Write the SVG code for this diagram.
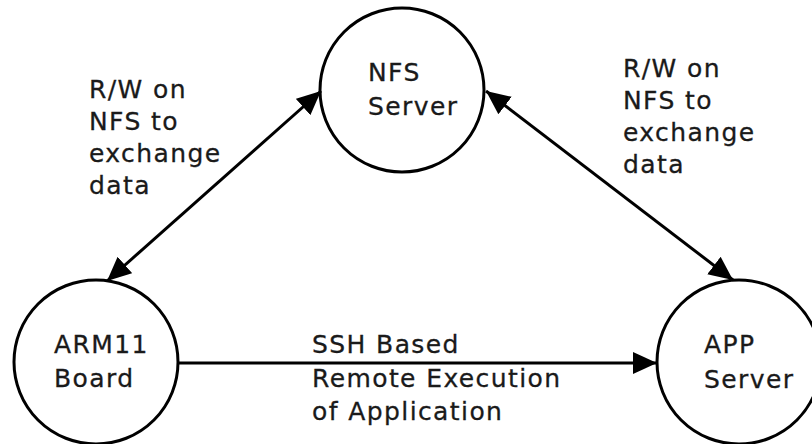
<svg xmlns="http://www.w3.org/2000/svg" width="812" height="444" viewBox="0 0 812 444">
<style>
.node{fill:#fff;stroke:#000;stroke-width:3}
.lbl{font-family:"DejaVu Sans",Verdana,sans-serif;font-size:25px;letter-spacing:1.4px;fill:#1a1a1a;stroke:#1a1a1a;stroke-width:0.3}
.edge{stroke:#000;stroke-width:3;fill:none}
</style>
<defs>
<marker id="arr" markerUnits="userSpaceOnUse" markerWidth="26" markerHeight="24" refX="24" refY="12" orient="auto-start-reverse" viewBox="0 0 26 24">
<path d="M0,1 L24,12 L0,23 Z" fill="#000"/>
</marker>
</defs>
<rect width="812" height="444" fill="#fff"/>
<g id="nfs">
<circle class="node" cx="402" cy="90" r="82"/>
<text class="lbl" x="368" y="81">NFS</text>
<text class="lbl" x="368" y="115">Server</text>
</g>
<g id="arm">
<circle class="node" cx="96" cy="362" r="82"/>
<text class="lbl" x="54" y="353">ARM11</text>
<text class="lbl" x="54" y="387">Board</text>
</g>
<g id="app">
<circle class="node" cx="739" cy="362" r="82"/>
<text class="lbl" x="704" y="353">APP</text>
<text class="lbl" x="704" y="388">Server</text>
</g>
<g id="connectors">
<path class="edge" d="M107,281 L321,91" marker-start="url(#arr)" marker-end="url(#arr)"/>
<path class="edge" d="M486,91 L733,280" marker-start="url(#arr)" marker-end="url(#arr)"/>
<path class="edge" d="M178,363 L657,363" marker-end="url(#arr)"/>
</g>
<g id="labels">
<text class="lbl" x="89" y="98">R/W on</text>
<text class="lbl" x="89" y="130">NFS to</text>
<text class="lbl" x="89" y="162">exchange</text>
<text class="lbl" x="89" y="194">data</text>
<text class="lbl" x="623" y="77">R/W on</text>
<text class="lbl" x="623" y="109">NFS to</text>
<text class="lbl" x="623" y="141">exchange</text>
<text class="lbl" x="623" y="173">data</text>
<text class="lbl" x="312" y="353">SSH Based</text>
<text class="lbl" x="312" y="387">Remote Execution</text>
<text class="lbl" x="312" y="420">of Application</text>
</g>
</svg>
